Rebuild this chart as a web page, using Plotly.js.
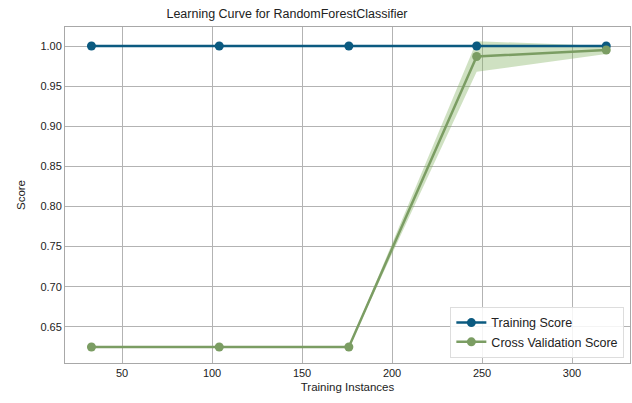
<!DOCTYPE html>
<html>
<head>
<meta charset="utf-8">
<script src="https://cdn.plot.ly/plotly-3.0.1.min.js"></script>
<style>html,body{margin:0;padding:0;background:#fff;}#chart{width:632px;height:403px;}</style>
</head>
<body>
<div id="chart"></div>
<script>
const trainSizes = [33, 104, 176, 247, 319];
const trainMean = [1.0, 1.0, 1.0, 1.0, 1.0];
const trainStd = [0, 0, 0, 0, 0];
const cvMean = [0.625, 0.625, 0.625, 0.987, 0.995];
const cvStd = [0, 0, 0, 0.019, 0.005];
const xTicks = [50, 100, 150, 200, 250, 300];
const yTicks = [0.65, 0.70, 0.75, 0.80, 0.85, 0.90, 0.95, 1.00];

const trainColor = '#0b5a80';
const cvColor = '#7b9d63';

function band(mean, std, color) {
  const up = mean.map((m, i) => m + std[i]);
  const lo = mean.map((m, i) => m - std[i]);
  return {
    x: trainSizes.concat(trainSizes.slice().reverse()),
    y: up.concat(lo.slice().reverse()),
    fill: 'toself', fillcolor: color, line: {width: 0},
    mode: 'lines', hoverinfo: 'skip', showlegend: false
  };
}

const data = [
  band(trainMean, trainStd, 'rgba(11,90,128,0.25)'),
  band(cvMean, cvStd, 'rgba(130,175,95,0.38)'),
  {x: trainSizes, y: trainMean, mode: 'lines+markers', name: 'Training Score',
   line: {color: trainColor, width: 2.5}, marker: {color: trainColor, size: 9}},
  {x: trainSizes, y: cvMean, mode: 'lines+markers', name: 'Cross Validation Score',
   line: {color: cvColor, width: 2.5}, marker: {color: cvColor, size: 9}}
];

const layout = {
  width: 632, height: 403,
  margin: {l: 65, r: 2, t: 27, b: 40},
  paper_bgcolor: '#fff', plot_bgcolor: '#fff',
  font: {family: 'Liberation Sans, Arial, sans-serif', size: 11, color: '#222'},
  title: {text: 'Learning Curve for RandomForestClassifier', x: 287 / 632, xref: 'container', xanchor: 'center',
          y: 0.965, yanchor: 'middle', font: {size: 12.5, color: '#222'}},
  xaxis: {range: [18.3, 332.2], tickvals: xTicks, ticktext: xTicks.map(String),
          showgrid: true, gridcolor: '#b3b3b3', gridwidth: 1, zeroline: false,
          showline: true, linecolor: '#a8a8a8', mirror: true, ticks: '',
          title: {text: 'Training Instances', font: {size: 11.5}, standoff: 4}},
  yaxis: {range: [0.605, 1.0237], tickvals: yTicks, ticktext: yTicks.map(v => v.toFixed(2)),
          showgrid: true, gridcolor: '#b3b3b3', gridwidth: 1, zeroline: false,
          showline: true, linecolor: '#a8a8a8', mirror: true, ticks: '',
          title: {text: 'Score', font: {size: 11.5}, standoff: 12}},
  legend: {x: 0.99, y: 0.015, xanchor: 'right', yanchor: 'bottom',
           bgcolor: 'rgba(255,255,255,0.85)', bordercolor: '#dddddd', borderwidth: 1,
           font: {size: 12.5, color: '#222'}, tracegroupgap: 0, itemwidth: 30},
  showlegend: true
};

Plotly.newPlot('chart', data, layout, {displayModeBar: false, staticPlot: true});
</script>
</body>
</html>
